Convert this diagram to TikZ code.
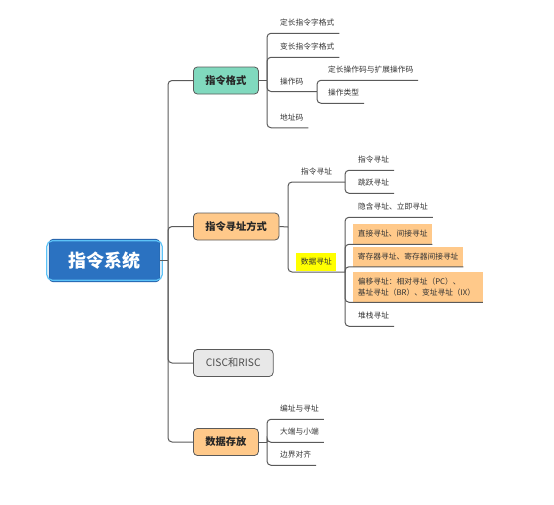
\documentclass[tikz,border=0pt]{standalone}
\usepackage{fontspec}
\setmainfont{Noto Sans CJK SC}
\usetikzlibrary{positioning}
\definecolor{rootblue}{HTML}{2B72C1}
\definecolor{ringblue}{HTML}{5CC2F7}
\definecolor{fmtgreen}{HTML}{80D9BE}
\definecolor{topicorange}{HTML}{FFC98A}
\definecolor{hlyellow}{HTML}{FFFF00}
\definecolor{ciscgrey}{HTML}{E8E8E8}
\definecolor{linegrey}{HTML}{5A5A5A}
\definecolor{textgrey}{HTML}{333333}
\tikzset{
  link/.style={draw=linegrey, line width=0.75pt, rounded corners=3pt},
  rootbox/.style={rounded corners=3pt, fill=rootblue, draw=rootblue!85!black,
                  line width=0.5pt, minimum width=83pt, minimum height=32pt,
                  text=white, font=\fontsize{13.5}{16}\selectfont\bfseries},
  ring/.style={draw=ringblue, line width=0.9pt, rounded corners=4pt},
  topic/.style={rounded corners=3pt, draw=linegrey, line width=0.6pt, fill=#1,
                anchor=west, inner xsep=9pt, inner ysep=0pt,
                minimum height=20.25pt, text=black!85,
                font=\fontsize{7.7}{9}\selectfont\bfseries},
  leaf/.style={anchor=west, inner xsep=3.5pt, inner ysep=0pt,
               minimum height=15pt, text=textgrey,
               font=\fontsize{5.8}{7}\selectfont},
  leafbox/.style={leaf, fill=topicorange},
  hl/.style={leaf, fill=hlyellow, inner xsep=3.4pt, minimum height=13.5pt},
}

\begin{document}
\begin{tikzpicture}[x=0.75pt, y=-0.75pt]
\useasboundingbox (0,0) rectangle (554,504);

\node[rootbox] at (104.5,260.5) (root) {指令系统};
\draw[ring] ([shift={(-1.5pt,1.5pt)}]root.south west)
  rectangle ([shift={(1.5pt,-1.5pt)}]root.north east);

\node[topic=fmtgreen]    at (193,80.5)  (fmt)   {指令格式};
\node[topic=topicorange] at (193,226.5) (addr)  {指令寻址方式};
\node[topic=ciscgrey, font=\fontsize{7.7}{9}\selectfont, text=black!70,
      inner xsep=9.4pt]   at (193,363)   (cisc)  {CISC和RISC};
\node[topic=topicorange] at (193,442)   (store) {数据存放};

\coordinate (trunk) at (168,260.5);
\draw[link] (root.east) -- (trunk);
\foreach \t in {fmt, addr, cisc, store}{
  \draw[link] (trunk) |- (\t.west);}

% instruction format
\coordinate (jf) at (267,80.5);
\coordinate (jo) at (317,91.5);
\node[leaf] at (275.3,23)   (f1) {定长指令字格式};
\node[leaf] at (275.3,47)   (f2) {变长指令字格式};
\node[leaf] at (275.3,81.5) (f3) {操作码};
\node[leaf] at (275.3,117.5) (f4) {地址码};
\node[leaf] at (323.3,70)   (o1) {定长操作码与扩展操作码};
\node[leaf] at (323.3,93)   (o2) {操作类型};
\draw[link] (fmt.east) -- (jf);
\draw[link] (jf) |- (jo);

% addressing modes
\coordinate (ja) at (288,227);
\coordinate (ji) at (345,182);
\coordinate (jd) at (345,272);
\node[leaf] at (296.3,172) (a1) {指令寻址};
\node[hl]   at (296,262)   (a2) {数据寻址};
\node[leaf] at (353.3,160) (b1) {指令寻址};
\node[leaf] at (353.3,183) (b2) {跳跃寻址};
\node[leaf]    at (353.3,207) (c1) {隐含寻址、立即寻址};
\node[leafbox] at (353,234)   (c2) {直接寻址、间接寻址};
\node[leafbox] at (353,256.5) (c3) {寄存器寻址、寄存器间接寻址};
\node[leafbox, align=left, text width=90pt, minimum height=22.5pt,
      font=\fontsize{5.8}{8.3}\selectfont] at (353,287) (c4)
  {偏移寻址：相对寻址（PC）、\\基址寻址（BR）、变址寻址（IX）};
\node[leaf]    at (353.3,316) (c5) {堆栈寻址};
\draw[link] (addr.east) -- (ja);
\draw[link] (ja) |- (ji);
\draw[link] (ja) |- (jd);

% data storage
\coordinate (js) at (267,442);
\node[leaf] at (275.3,409) (d1) {编址与寻址};
\node[leaf] at (275.3,432) (d2) {大端与小端};
\node[leaf] at (275.3,455) (d3) {边界对齐};
\draw[link] (store.east) -- (js);

\foreach \j/\c in {jf/f1, jf/f2, jf/f4, jo/o1, jo/o2, ji/b1, ji/b2,
                   jd/c1, jd/c2, jd/c3, jd/c4, jd/c5, js/d1, js/d2, js/d3}{
  \draw[link] (\j) |- (\c.south east);}
\end{tikzpicture}
\end{document}
